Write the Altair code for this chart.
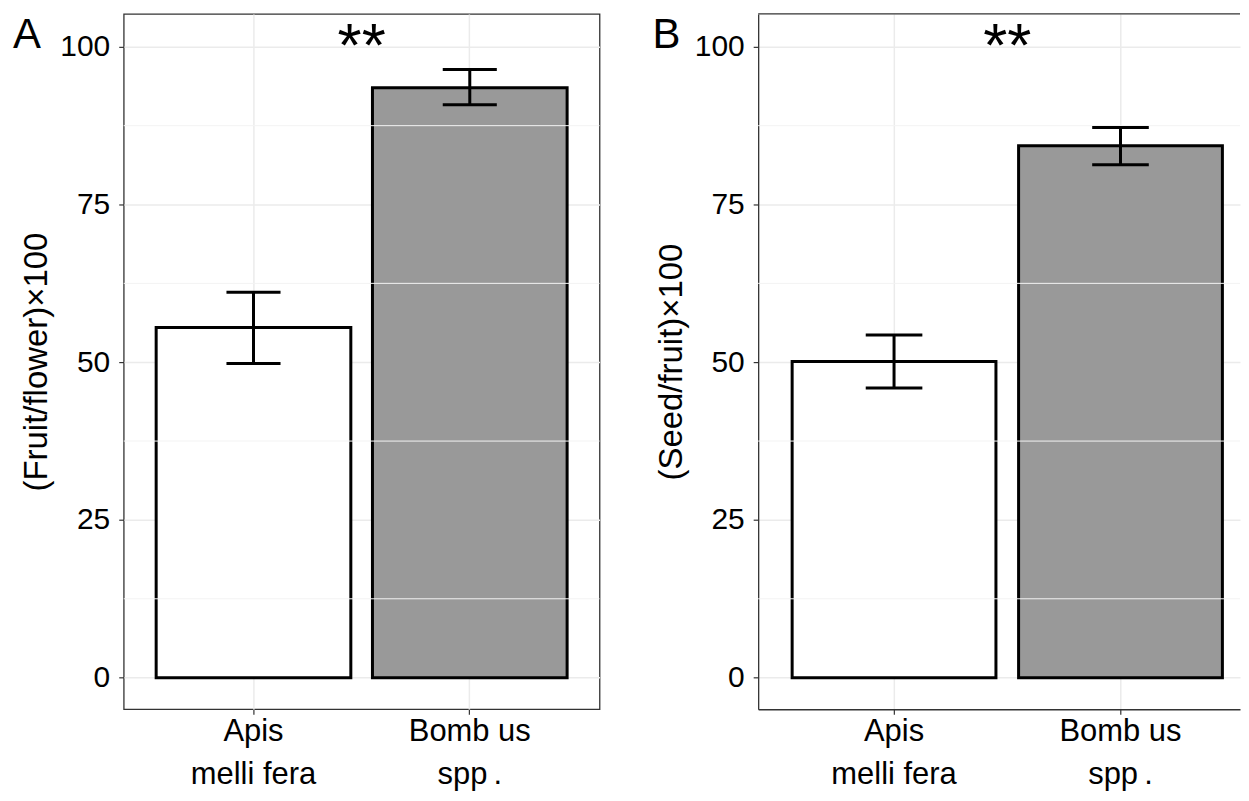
import altair as alt
import pandas as pd

# ---------------- data ----------------
species = ["Apis|melli fera", "Bomb us|spp\u2009."]
bar_fills = ["#ffffff", "#999999"]
fruit_mean = [55.5, 93.5]
fruit_low = [49.8, 90.8]
fruit_high = [61.1, 96.4]
seed_mean = [50.1, 84.3]
seed_low = [45.9, 81.3]
seed_high = [54.3, 87.2]
y_major = [0, 25, 50, 75, 100]
y_minor = [12.5, 37.5, 62.5, 87.5]
y_domain = [-5.01, 105.21]
sig_text = "**"
sig_y = [96.9]
tags = ["A", "B"]
y_titles = ["(Fruit/flower)\u00d7100", "(Seed/fruit)\u00d7100"]

# ---------------- layout / style ----------------
FONT = "Liberation Sans"
PH = 697
BORDER = "#333333"
GRID = "#ebebeb"
P_INNER = 0.1


def make_panel(mean, low, high, tag, ytitle, width, step, p_outer, align, tag_x, full_border):
    df = pd.DataFrame({"cat": species, "mean": mean, "low": low, "high": high, "fill": bar_fills})
    xs = alt.Scale(domain=species, paddingInner=P_INNER, paddingOuter=p_outer, align=align)
    ys = alt.Scale(domain=y_domain, nice=False, zero=False)
    n = len(species)
    start = (width - step * (n - P_INNER)) * align
    bw = step * (1 - P_INNER)
    star_x = start + bw / 2 + step * (n - 1) / 2
    cap = 0.25 * step

    xaxis = alt.Axis(title=None, labelExpr="split(datum.label, '|')", labelAngle=0,
                     labelFontSize=31, labelLineHeight=43, labelColor="black",
                     labelBaseline="top", labelPadding=2, tickColor=BORDER, tickSize=5,
                     tickWidth=1.2, grid=True, gridColor=GRID, gridWidth=1.5,
                     bandPosition=0.5, domain=not full_border, domainColor=BORDER,
                     domainWidth=1.3)
    yaxis = alt.Axis(title=ytitle, values=y_major, labelFontSize=30, labelColor="black",
                     labelPadding=9, tickColor=BORDER, tickSize=5, tickWidth=1.2,
                     grid=True, gridColor=GRID, gridWidth=1.5, domain=not full_border,
                     domainColor=BORDER, domainWidth=1.3, titleFontSize=33,
                     titleFontWeight="normal", titleColor="black", titlePadding=6)

    def X():
        return alt.X("cat:N", scale=xs, title=None)

    def Y(f):
        return alt.Y(f, scale=ys, title=ytitle)

    minor = alt.Chart(pd.DataFrame({"v": y_minor})).mark_rule(
        color="#f3f3f3", strokeWidth=1).encode(y=Y("v:Q"))
    bars = alt.Chart(df).mark_bar(stroke="black", strokeWidth=3).encode(
        x=alt.X("cat:N", scale=xs, axis=xaxis),
        y=alt.Y("mean:Q", scale=ys, axis=yaxis),
        fill=alt.Fill("fill:N", scale=None),
    )
    err = alt.Chart(df).mark_rule(color="black", strokeWidth=3).encode(
        x=X(), y=Y("low:Q"), y2="high:Q",
    )
    cap_lo = alt.Chart(df).mark_tick(color="black", size=cap, thickness=3, opacity=1).encode(
        x=X(), y=Y("low:Q"),
    )
    cap_hi = alt.Chart(df).mark_tick(color="black", size=cap, thickness=3, opacity=1).encode(
        x=X(), y=Y("high:Q"),
    )
    star = alt.Chart(pd.DataFrame({"v": sig_y})).mark_text(
        text=sig_text, fontSize=62, baseline="alphabetic", align="center", color="black"
    ).encode(x=alt.value(star_x), y=Y("v:Q"))
    tag_t = alt.Chart(pd.DataFrame({"t": [tag]})).mark_text(
        fontSize=42, align="left", baseline="top", color="black"
    ).encode(x=alt.value(tag_x), y=alt.value(1), text="t:N")

    layers = [bars, minor, err, cap_lo, cap_hi, star, tag_t]
    if not full_border:
        top = alt.Chart(pd.DataFrame({"t": [0]})).mark_rule(
            color=BORDER, strokeWidth=1.3).encode(
            x=alt.value(0), x2=alt.value(width), y=alt.value(0))
        layers.append(top)
        return alt.layer(*layers).properties(
            width=width, height=PH, view=alt.ViewBackground(strokeOpacity=0))
    return alt.layer(*layers).properties(width=width, height=PH)


WA = 477
stepA = WA / 2.2
panelA = make_panel(fruit_mean, fruit_low, fruit_high, tags[0], y_titles[0],
                    WA, stepA, 0.15, 0.5, -111, True)

WB = 483
stepB = 227.0
poB = (WB / stepB - (2 - P_INNER)) / 2
alignB = (0.15 * stepB) / (2 * poB * stepB)
panelB = make_panel(seed_mean, seed_low, seed_high, tags[1], y_titles[1],
                    WB, stepB, poB, alignB, -106, False)

chart = alt.hconcat(panelA, panelB, spacing=51).properties(
    padding={"left": 4, "top": 4, "right": 0, "bottom": 0}
).configure_view(stroke=BORDER, strokeWidth=1.3).configure_axis(
    labelFont=FONT, titleFont=FONT
).configure_text(font=FONT)

chart.save("out.html", embed_options={"renderer": "svg", "actions": False})
